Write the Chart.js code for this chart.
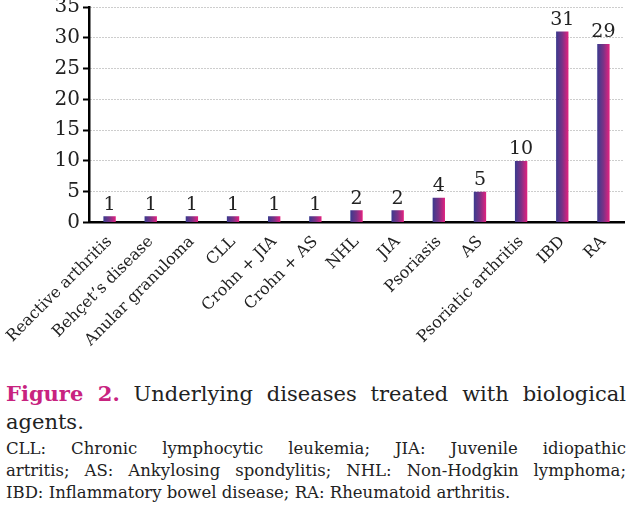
<!DOCTYPE html>
<html>
<head>
<meta charset="utf-8">
<script src="https://cdn.jsdelivr.net/npm/chart.js@4/dist/chart.umd.min.js"></script>
<style>
  body { margin: 0; background: #fff; width: 630px; height: 508px; overflow: hidden; }
  #wrap { position: relative; width: 630px; height: 352px; }
  #caption { position: absolute; left: 6px; top: 380px; width: 620px; font-family: "DejaVu Serif", serif; color: #222; }
  #caption .main { font-size: 21px; line-height: 28px; white-space: nowrap; }
  #caption .main b { color: #c8237f; }
  #caption .abbr { font-size: 16.5px; line-height: 22px; white-space: nowrap; }
  #caption .just { text-align: justify; text-align-last: justify; }
  #caption .first { margin-top: 2px; }
</style>
</head>
<body>
<div id="wrap"><canvas id="diseaseChart"></canvas></div>
<div id="caption">
  <div class="main just"><b>Figure 2.</b> Underlying diseases treated with biological</div>
  <div class="main">agents.</div>
  <div class="abbr just first">CLL: Chronic lymphocytic leukemia; JIA: Juvenile idiopathic</div>
  <div class="abbr just">artritis; AS: Ankylosing spondylitis; NHL: Non-Hodgkin lymphoma;</div>
  <div class="abbr">IBD: Inflammatory bowel disease; RA: Rheumatoid arthritis.</div>
</div>
<script>
const diseases = ['Reactive arthritis', 'Behçet\u2019s disease', 'Anular granuloma', 'CLL', 'Crohn + JIA', 'Crohn + AS',
                  'NHL', 'JIA', 'Psoriasis', 'AS', 'Psoriatic arthritis', 'IBD', 'RA'];
const patients = [1, 1, 1, 1, 1, 1, 2, 2, 4, 5, 10, 31, 29];
const yTicks = [0, 5, 10, 15, 20, 25, 30, 35];

const serif = '"DejaVu Serif", serif';
const barShare = 0.3;

// horizontal blue -> magenta fill, one gradient per bar
function barFill(c) {
    const chart = c.chart;
    const xs = chart.scales.x;
    if (!xs || c.dataIndex === undefined || !xs.width) return '#7a3286';
    const cx = xs.getPixelForValue(c.dataIndex);
    const half = xs.width / diseases.length * barShare / 2;
    const g = chart.ctx.createLinearGradient(cx - half, 0, cx + half, 0);
    g.addColorStop(0, '#3a3a8e');
    g.addColorStop(0.5, '#7a3286');
    g.addColorStop(1, '#e4217f');
    return g;
}

// numbers on top of the bars
const valueLabels = {
    id: 'valueLabels',
    afterDatasetsDraw(chart) {
        const ctx = chart.ctx;
        ctx.save();
        ctx.font = '19px ' + serif;
        ctx.fillStyle = '#222';
        ctx.textAlign = 'center';
        ctx.textBaseline = 'bottom';
        chart.getDatasetMeta(0).data.forEach(function(bar, i) {
            ctx.fillText(patients[i], bar.x, bar.y - 2);
        });
        ctx.restore();
    }
};

const ctx = document.getElementById('diseaseChart').getContext('2d');
new Chart(ctx, {
    type: 'bar',
    data: {
        labels: diseases,
        datasets: [{
            data: patients,
            backgroundColor: barFill,
            barPercentage: barShare,
            categoryPercentage: 1.0
        }]
    },
    options: {
        responsive: true,
        maintainAspectRatio: false,
        animation: false,
        layout: { padding: 0 },
        plugins: {
            legend: { display: false },
            tooltip: { enabled: false }
        },
        scales: {
            y: {
                min: 0,
                max: 35,
                afterBuildTicks: function(axis) {
                    axis.ticks = yTicks.map(v => ({ value: v }));
                },
                // pin the axis where the original puts it
                afterFit: function(axis) {
                    axis.width = 89;
                    axis.paddingTop = 7;
                },
                ticks: {
                    font: { family: serif, size: 20 },
                    color: '#222',
                    padding: 3
                },
                grid: {
                    color: '#9a9a9a',
                    lineWidth: 1,
                    tickColor: '#000',
                    tickLength: 6,
                    tickWidth: 2
                },
                border: { color: '#000', width: 2.5, dash: [1, 2] }
            },
            x: {
                afterFit: function(axis) {
                    axis.paddingLeft = 0;
                    axis.paddingRight = 6;
                },
                ticks: {
                    font: { family: serif, size: 16 },
                    color: '#222',
                    autoSkip: false,
                    minRotation: 45,
                    maxRotation: 45,
                    padding: 2
                },
                grid: { display: false },
                border: { color: '#000', width: 2.5 }
            }
        }
    }
    , plugins: [valueLabels]
});
</script>
</body>
</html>
